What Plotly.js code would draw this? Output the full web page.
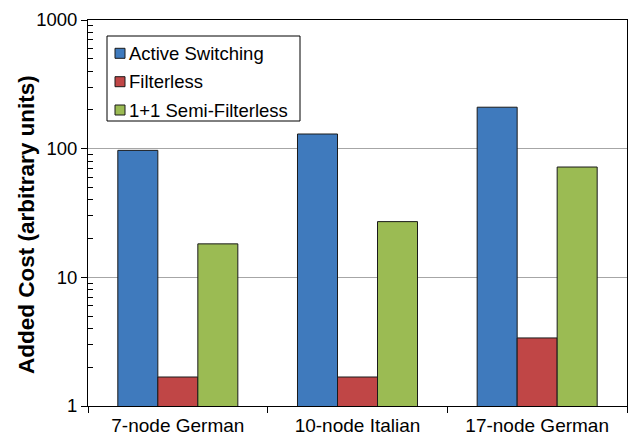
<!DOCTYPE html>
<html>
<head>
<meta charset="utf-8">
<script src="https://cdn.plot.ly/plotly-3.0.1.min.js"></script>
<style>html,body{margin:0;padding:0;background:#fff;}#chart{width:628px;height:438px;}</style>
</head>
<body>
<div id="chart"></div>
<script>
const categories = ["7-node German", "10-node Italian", "17-node German"];
const seriesNames = ["Active Switching", "Filterless", "1+1 Semi-Filterless"];
const activeSwitching = [97, 130, 210];
const filterless = [1.68, 1.68, 3.38];
const semiFilterless = [18.2, 27.1, 72];
const yTickVals = [1, 10, 100, 1000];
const yTickText = ["1", "10", "100", "1000"];
const yMinorVals = [2,3,4,5,6,7,8,9,20,30,40,50,60,70,80,90,200,300,400,500,600,700,800,900];

const colors = ["#3F7ABD", "#C04646", "#9BBB53"];
const values = [activeSwitching, filterless, semiFilterless];
const font = "Liberation Sans, Arial, sans-serif";

// plot area geometry (pixels) for placing the legend box
const M = {l: 88, r: 1, t: 20, b: 32};
const W = 628, H = 438;
const pw = W - M.l - M.r, ph = H - M.t - M.b;
const px2x = p => (p - M.l) / pw;
const px2y = p => (H - M.b - p) / ph;

const traces = values.map((v, i) => ({
  type: "bar",
  name: seriesNames[i],
  x: categories,
  y: v,
  marker: {color: colors[i], line: {color: "#1a1a1a", width: 1}},
  hoverinfo: "x+y+name"
}));

// custom legend (box, swatches, labels)
const legRows = [53.3, 81.7, 110];
const shapes = [{
  type: "rect", xref: "paper", yref: "paper", layer: "above",
  x0: px2x(107), x1: px2x(300), y0: px2y(121), y1: px2y(36),
  line: {color: "#000", width: 1}, fillcolor: "#fff"
}];
const annotations = [];
seriesNames.forEach((name, i) => {
  shapes.push({
    type: "rect", xref: "paper", yref: "paper", layer: "above",
    x0: px2x(115), x1: px2x(125), y0: px2y(legRows[i] + 5), y1: px2y(legRows[i] - 5),
    line: {color: "#1a1a1a", width: 1}, fillcolor: colors[i]
  });
  annotations.push({
    text: name, xref: "paper", yref: "paper",
    x: px2x(127), y: px2y(legRows[i]), xanchor: "left", yanchor: "middle",
    showarrow: false, font: {family: font, size: 18.5, color: "#000"}
  });
});
annotations.push({
  text: "<b>Added Cost (arbitrary units)</b>",
  xref: "paper", yref: "paper",
  x: px2x(26), y: px2y(225), xanchor: "center", yanchor: "middle",
  textangle: -90, showarrow: false,
  font: {family: font, size: 22.5, color: "#000"}
});

const layout = {
  width: W, height: H,
  margin: M,
  paper_bgcolor: "#fff", plot_bgcolor: "#fff",
  barmode: "group", bargap: 0.332, bargroupgap: 0,
  font: {family: font, color: "#000"},
  showlegend: false,
  xaxis: {
    type: "category",
    showline: true, linecolor: "#000", linewidth: 1, mirror: true,
    ticks: "outside", ticklen: 6, tickcolor: "#000", tickson: "boundaries",
    ticklabelstandoff: 2,
    tickfont: {family: font, size: 19, color: "#000"},
    showgrid: false, zeroline: false, fixedrange: true
  },
  yaxis: {
    type: "log", range: [0, 3],
    tickmode: "array", tickvals: yTickVals, ticktext: yTickText,
    showline: true, linecolor: "#000", linewidth: 1, mirror: true,
    ticks: "outside", ticklen: 6, tickcolor: "#000",
    tickfont: {family: font, size: 18.5, color: "#000"},
    showgrid: true, gridcolor: "#A6A6A6", gridwidth: 1,
    zeroline: false, fixedrange: true,
    minor: {tickmode: "array", tickvals: yMinorVals, ticks: "inside", ticklen: 5, tickcolor: "#000", showgrid: false}
  },
  shapes: shapes,
  annotations: annotations
};

Plotly.newPlot("chart", traces, layout, {displayModeBar: false, staticPlot: true});
</script>
</body>
</html>
